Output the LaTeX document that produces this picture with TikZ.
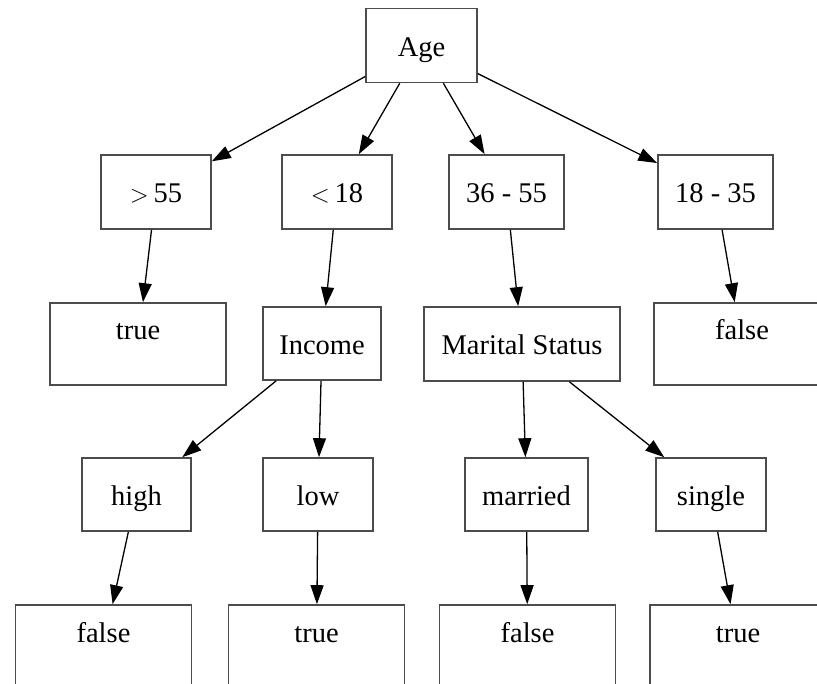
\documentclass[tikz,border=0pt]{standalone}
\usepackage{fontspec}
\setmainfont{Liberation Serif}
\usetikzlibrary{arrows.meta}

\begin{document}
\begin{tikzpicture}[x=10pt,y=10pt]
    \tikzstyle{every node}+=[font=\fontsize{28.5}{33}\selectfont, inner sep=0pt]
    \tikzstyle{test}=[draw=black!70, line width=1.6pt, minimum height=74pt, text height=26pt, text depth=4pt]
    \tikzstyle{leaf}=[draw=black!70, line width=1.6pt, minimum width=176pt, text height=37pt, text depth=45pt]
    \tikzstyle{edge}=[black, line width=1.3pt, -{Triangle[length=19pt,width=13pt]}]
    \useasboundingbox (0,0) rectangle (81.7,-68.4);
    \node [test, minimum width=111pt] (age) at (42.15,-4.55) {Age};
    \node [test, minimum width=110pt] (old) at (15.6,-19.2) {$>$\,55};
    \node [test, minimum width=110pt] (young) at (33.7,-19.2) {$<$\,18};
    \node [test, minimum width=115pt] (middle) at (50.65,-19.2) {36 - 55};
    \node [test, minimum width=115pt] (adult) at (71.55,-19.2) {18 - 35};
    \node [leaf] (old-true) at (13.8,-34.4) {true};
    \node [test, minimum width=118pt, minimum height=73pt] (income) at (32.2,-34.35) {Income};
    \node [test, minimum width=196pt] (marital) at (52.2,-34.4) {Marital Status};
    \node [leaf] (adult-false) at (74.2,-34.4) {false};
    \node [test, minimum width=109pt, minimum height=73pt] (high) at (13.65,-49.45) {high};
    \node [test, minimum width=110pt, minimum height=73pt] (low) at (31.8,-49.45) {low};
    \node [test, minimum width=123pt, minimum height=73pt] (married) at (52.65,-49.45) {married};
    \node [test, minimum width=110pt, minimum height=73pt] (single) at (71.1,-49.45) {single};
    \node [leaf] (high-false) at (10.35,-64.6) {false};
    \node [leaf] (low-true) at (31.65,-64.6) {true};
    \node [leaf] (married-false) at (52.75,-64.6) {false};
    \node [leaf] (single-true) at (73.8,-64.6) {true};
    \draw [edge] (age) -- (old);
    \draw [edge] (age) -- (young);
    \draw [edge] (age) -- (middle);
    \draw [edge] (age) -- (adult);
    \draw [edge] (old) -- (old-true);
    \draw [edge] (young) -- (income);
    \draw [edge] (middle) -- (marital);
    \draw [edge] (adult) -- (adult-false);
    \draw [edge] (income) -- (high);
    \draw [edge] (income) -- (low);
    \draw [edge] (marital) -- (married);
    \draw [edge] (marital) -- (single);
    \draw [edge] (high) -- (high-false);
    \draw [edge] (low) -- (low-true);
    \draw [edge] (married) -- (married-false);
    \draw [edge] (single) -- (single-true);
\end{tikzpicture}
\end{document}
